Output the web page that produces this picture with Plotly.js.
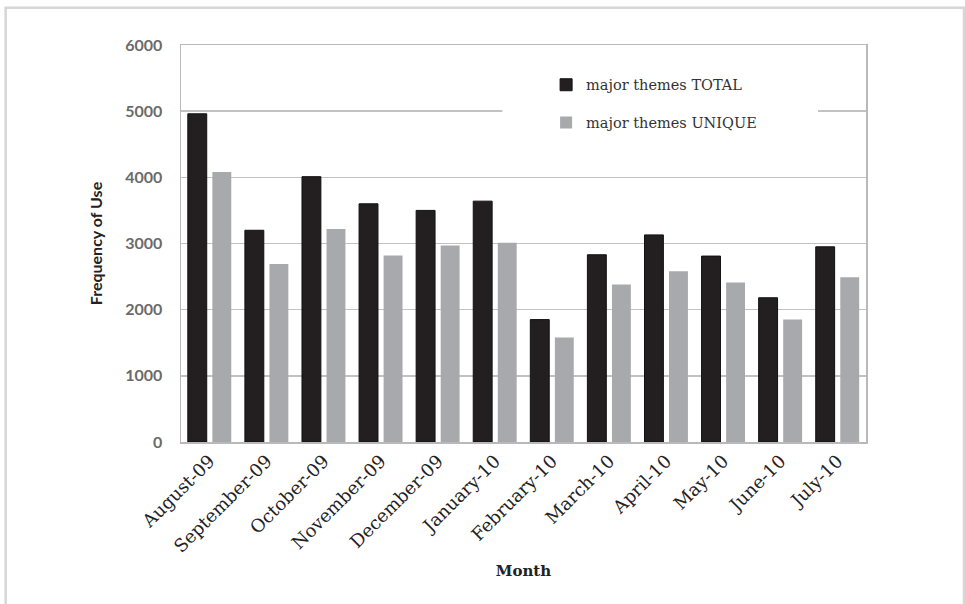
<!DOCTYPE html>
<html>
<head>
<meta charset="utf-8">
<script src="https://cdn.plot.ly/plotly-3.0.1.min.js"></script>
<style>html,body{margin:0;padding:0;background:#fff;} #chart{width:965px;height:604px;}</style>
</head>
<body>
<div id="chart"></div>
<script>
const months = ['August-09','September-09','October-09','November-09','December-09','January-10','February-10','March-10','April-10','May-10','June-10','July-10'];
const totalValues = [4960, 3200, 4010, 3600, 3500, 3640, 1850, 2830, 3130, 2810, 2180, 2950];
const uniqueValues = [4080, 2690, 3220, 2820, 2970, 3010, 1580, 2380, 2580, 2410, 1850, 2490];
const seriesNames = ['major themes TOTAL', 'major themes UNIQUE'];
const yTicks = [0, 1000, 2000, 3000, 4000, 5000, 6000];

const traces = [
  {type:'bar', x: months, y: totalValues, name: seriesNames[0], legendgroup:'a',
   marker:{color:'#231f20', line:{color:'#111', width:1}}},
  {type:'bar', x: months, y: uniqueValues, name: seriesNames[1], legendgroup:'b',
   marker:{color:'#a8a9ac', line:{width:0}}}
];

const layout = {
  width: 965, height: 604,
  margin: {l:181, r:99, t:45, b:162},
  paper_bgcolor:'#fff', plot_bgcolor:'#fff',
  barmode:'group', bargap:0.14, bargroupgap:0.23,
  showlegend: true,
  legend: {x:0.533, xanchor:'left', y:0.94, yanchor:'top', bgcolor:'rgba(0,0,0,0)',
    font:{family:'DejaVu Serif', size:14.5, color:'#333'}, tracegroupgap:16, traceorder:'grouped'},
  xaxis: {
    tickangle:-45, tickfont:{family:'DejaVu Serif', size:18, color:'#222'},
    showline:true, mirror:true, linecolor:'#b9b9b9', linewidth:1.5, ticks:'',
    title:{text:'Month', font:{family:'DejaVu Serif', size:15, weight:'bold', color:'#222'}, standoff:10}
  },
  yaxis: {
    range:[0,6000], tickvals: yTicks, ticktext: yTicks.map(String),
    tickfont:{family:'Lato', size:16, weight:'bold', color:'#6a6a6a'},
    showgrid:true, gridcolor:'#c2c2c2', gridwidth:1.5,
    showline:true, mirror:true, linecolor:'#b9b9b9', linewidth:1.5, ticks:'', ticklabelstandoff:14,
    title:{text:'Frequency of Use', font:{family:'Lato', size:16, weight:'bold', color:'#222'}, standoff:18}
  },
  shapes: [
    {type:'rect', xref:'paper', yref:'paper', x0:0.469, x1:0.930, y0:0.72, y1:0.955,
     fillcolor:'#fff', line:{width:0}, layer:'above'},
    {type:'rect', xref:'paper', yref:'paper', x0:-0.256, x1:1.143, y0:-0.5, y1:1.094,
     fillcolor:'rgba(0,0,0,0)', line:{color:'#d6d6d6', width:2.5}, layer:'above'}
  ]
};

Plotly.newPlot('chart', traces, layout, {staticPlot:true, displayModeBar:false});
</script>
</body>
</html>
